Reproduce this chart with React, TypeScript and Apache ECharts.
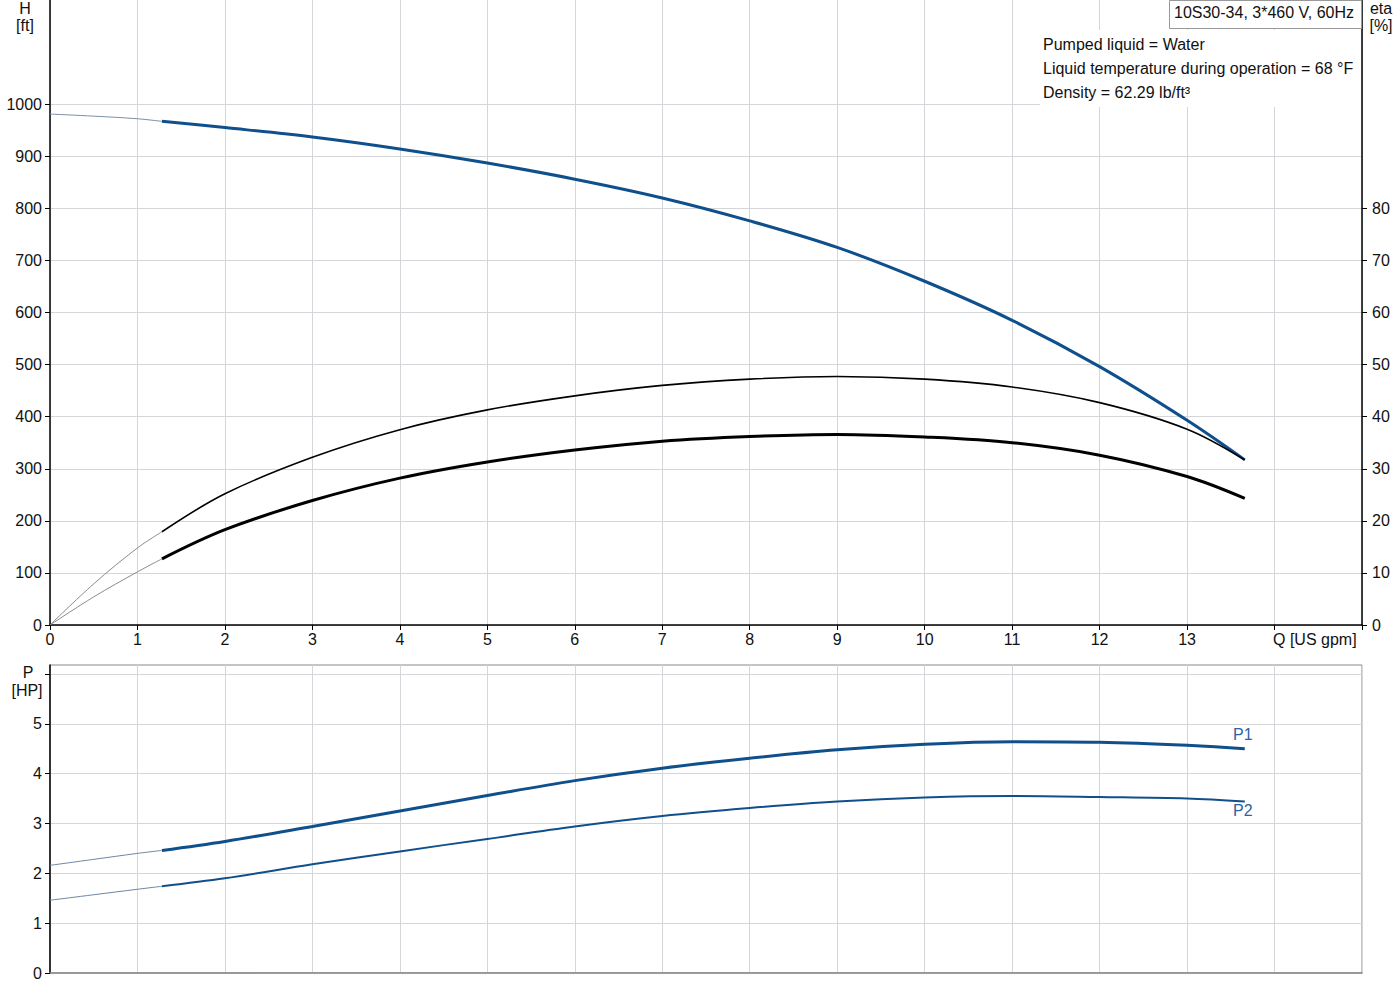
import { useEffect, useRef } from "react";
import * as echarts from "echarts";

// flow points, US gpm
const Q_START = [0, 0.5, 1, 1.28];
const Q_MAIN = [1.28, 2, 3, 4, 5, 6, 7, 8, 9, 10, 11, 12, 13, 13.66];

// head, ft
const H_START = [981, 977, 972, 967];
const H_MAIN = [967, 955, 937, 914, 887, 856, 820, 776, 725, 660, 585, 496, 393, 317];

// efficiency, %
const ETA_A_START = [0, 7.9, 14.8, 17.9];
const ETA_A_MAIN = [17.9, 25.2, 32.2, 37.5, 41.3, 44.0, 46.0, 47.2, 47.7, 47.2, 45.7, 42.7, 37.6, 31.7];
const ETA_B_START = [0, 5.4, 10.2, 12.7];
const ETA_B_MAIN = [12.7, 18.3, 23.9, 28.2, 31.3, 33.6, 35.3, 36.2, 36.6, 36.1, 35.0, 32.6, 28.5, 24.3];

// power, HP
const P1_START = [2.16, 2.28, 2.4, 2.46];
const P1_MAIN = [2.46, 2.64, 2.94, 3.25, 3.56, 3.86, 4.11, 4.31, 4.48, 4.59, 4.64, 4.63, 4.57, 4.5];
const P2_START = [1.46, 1.57, 1.68, 1.74];
const P2_MAIN = [1.74, 1.9, 2.18, 2.44, 2.69, 2.94, 3.15, 3.31, 3.44, 3.52, 3.55, 3.53, 3.5, 3.44];

const INFO_LINES = [
  "Pumped liquid = Water",
  "Liquid temperature during operation = 68 °F",
  "Density = 62.29 lb/ft³",
];

const FONT = "Arial, 'Liberation Sans', sans-serif";
const BLUE = "#0f4f8b";
const GRID_LINE = "#d4d6d9";

const pairs = (xs: number[], ys: number[]) => xs.map((x, i) => [x, ys[i]]);

function line(
  name: string,
  xs: number[],
  ys: number[],
  color: string,
  width: number,
  xAxisIndex: number,
  yAxisIndex: number,
) {
  return {
    name,
    type: "line",
    xAxisIndex,
    yAxisIndex,
    data: pairs(xs, ys),
    smooth: 0.35,
    showSymbol: false,
    symbol: "none",
    lineStyle: { color, width },
    silent: true,
  };
}

export default function App() {
  const ref = useRef<HTMLDivElement | null>(null);

  useEffect(() => {
    if (!ref.current) return;
    const chart = echarts.init(ref.current, null, { renderer: "svg" });

    const labelStyle = { color: "#111", fontSize: 16, fontFamily: FONT };
    const blackLine = { show: true, lineStyle: { color: "#000", width: 1.5 } };
    const ticksOut = { show: true, inside: false, length: 5, lineStyle: { color: "#000" } };
    const split = { show: true, lineStyle: { color: GRID_LINE, width: 1 } };

    const text = (x: number, y: number, t: string, align = "center", color = "#111") => ({
      type: "text",
      x,
      y,
      z: 100,
      style: {
        text: t,
        fill: color,
        font: `16px ${FONT}`,
        textAlign: align,
        textVerticalAlign: "middle",
      },
    });

    chart.setOption({
      animation: false,
      backgroundColor: "#fff",
      grid: [
        { left: 50, right: 38, top: 0, height: 625, containLabel: false },
        {
          left: 50,
          right: 38,
          top: 665,
          height: 308,
          show: true,
          borderColor: "#888",
          borderWidth: 1,
        },
      ],
      xAxis: [
        {
          type: "value",
          gridIndex: 0,
          min: 0,
          max: 15,
          interval: 1,
          axisLine: { ...blackLine, onZero: false },
          axisTick: ticksOut,
          axisLabel: {
            ...labelStyle,
            margin: 6,
            formatter: (v: number) => (v <= 13 ? String(v) : ""),
          },
          splitLine: split,
        },
        {
          type: "value",
          gridIndex: 1,
          min: 0,
          max: 15,
          interval: 1,
          axisLine: { show: true, onZero: false, lineStyle: { color: "#888", width: 1.5 } },
          axisTick: { show: false },
          axisLabel: { show: false },
          splitLine: split,
        },
      ],
      yAxis: [
        {
          type: "value",
          gridIndex: 0,
          min: 0,
          max: 1200,
          interval: 100,
          axisLine: blackLine,
          axisTick: {
            ...ticksOut,
            customValues: [0, 100, 200, 300, 400, 500, 600, 700, 800, 900, 1000],
          },
          axisLabel: {
            ...labelStyle,
            margin: 8,
            formatter: (v: number) => (v <= 1000 ? String(v) : ""),
          },
          splitLine: split,
        },
        {
          type: "value",
          gridIndex: 0,
          position: "right",
          min: 0,
          max: 120,
          interval: 10,
          axisLine: blackLine,
          axisTick: {
            ...ticksOut,
            customValues: [0, 10, 20, 30, 40, 50, 60, 70, 80],
          },
          axisLabel: {
            ...labelStyle,
            margin: 10,
            formatter: (v: number) => (v <= 80 ? String(v) : ""),
          },
          splitLine: { show: false },
        },
        {
          type: "value",
          gridIndex: 1,
          min: 0,
          max: 6.18,
          interval: 1,
          axisLine: blackLine,
          axisTick: {
            ...ticksOut,
            customValues: [0, 1, 2, 3, 4, 5, 6],
          },
          axisLabel: {
            ...labelStyle,
            margin: 8,
            showMaxLabel: false,
            formatter: (v: number) => (v <= 5 ? String(v) : ""),
          },
          splitLine: split,
        },
      ],
      graphic: [
        text(25, 8, "H"),
        text(25, 25, "[ft]"),
        text(1381, 8, "eta"),
        text(1381, 25, "[%]"),
        text(28, 672, "P"),
        text(27, 690, "[HP]"),
        text(1273, 639, "Q [US gpm]", "left"),
        {
          type: "rect",
          z: 99,
          shape: { x: 1040, y: 30, width: 321, height: 77 },
          style: { fill: "#fff" },
        },
        ...INFO_LINES.map((t, i) => text(1043, 44 + i * 24, t, "left")),
        {
          type: "rect",
          z: 99,
          shape: { x: 1169.5, y: 0.5, width: 192, height: 28 },
          style: { fill: "#fff", stroke: "#999", lineWidth: 1 },
        },
        text(1174, 12, "10S30-34, 3*460 V, 60Hz", "left"),
        text(1233, 734, "P1", "left", "#2a64a3"),
        text(1233, 810, "P2", "left", "#2a64a3"),
      ],
      series: [
        line("H start", Q_START, H_START, "#7a8fa8", 1, 0, 0),
        line("H", Q_MAIN, H_MAIN, BLUE, 3, 0, 0),
        line("eta start", Q_START, ETA_A_START, "#8a8a8a", 1, 0, 1),
        line("eta", Q_MAIN, ETA_A_MAIN, "#000", 1.6, 0, 1),
        line("eta total start", Q_START, ETA_B_START, "#8a8a8a", 1, 0, 1),
        line("eta total", Q_MAIN, ETA_B_MAIN, "#000", 3, 0, 1),
        line("P1 start", Q_START, P1_START, "#6d86a3", 1, 1, 2),
        line("P1", Q_MAIN, P1_MAIN, BLUE, 3, 1, 2),
        line("P2 start", Q_START, P2_START, "#6d86a3", 1, 1, 2),
        line("P2", Q_MAIN, P2_MAIN, BLUE, 2, 1, 2),
      ],
    } as any);

    return () => chart.dispose();
  }, []);

  return (
    <div
      ref={ref}
      style={{ position: "absolute", left: 0, top: 0, width: 1400, height: 1000 }}
    />
  );
}
